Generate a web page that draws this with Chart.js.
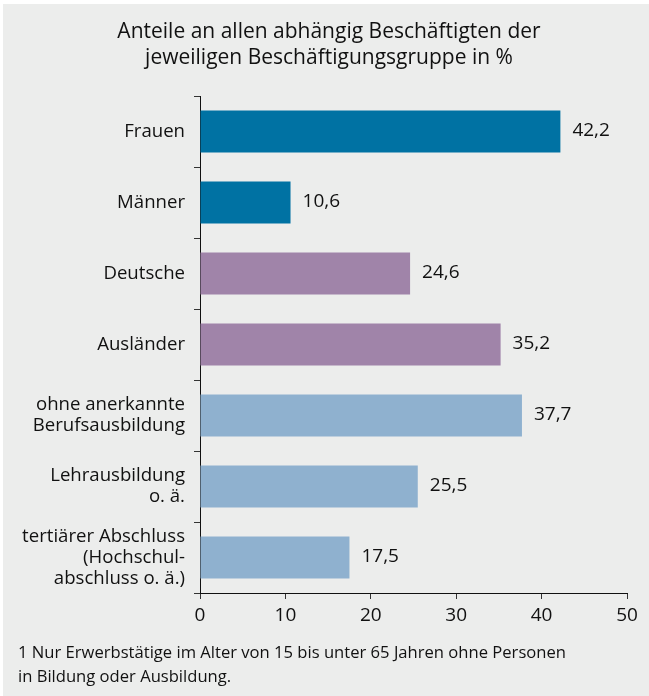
<!DOCTYPE html>
<html lang="de">
<head>
<meta charset="utf-8">
<title>Anteile an allen abhängig Beschäftigten</title>
<script src="https://cdn.jsdelivr.net/npm/chart.js@4.4.1/dist/chart.umd.min.js"></script>
<style>
    html, body { margin: 0; padding: 0; background: #ffffff; }
    #wrap { width: 649px; height: 696px; position: relative; }
</style>
</head>
<body>
<div id="wrap"><canvas id="chart"></canvas></div>
<script>
// Chart data
const categories = [
    'Frauen',
    'Männer',
    'Deutsche',
    'Ausländer',
    ['ohne anerkannte', 'Berufsausbildung'],
    ['Lehrausbildung', 'o. ä.'],
    ['tertiärer Abschluss', '(Hochschul-', 'abschluss o. ä.)']
];
const shares = [42.2, 10.6, 24.6, 35.2, 37.7, 25.5, 17.5];
const barColors = ['#0072a3', '#0072a3', '#a084a9', '#a084a9', '#8fb1cf', '#8fb1cf', '#8fb1cf'];
const titleLines = ['Anteile an allen abhängig Beschäftigten der', 'jeweiligen Beschäftigungsgruppe in %'];
const footnoteLines = [
    '1 Nur Erwerbstätige im Alter von 15 bis unter 65 Jahren ohne Personen',
    'in Bildung oder Ausbildung.'
];

const FONT = "'Open Sans', 'Noto Sans', sans-serif";
const TEXT = '#111111';

function formatValue(v) {
    return v.toFixed(1).replace('.', ',');
}

// grey panel with thin white edge on top and left
const panelBackground = {
    id: 'panelBackground',
    beforeDraw(chart) {
        const ctx = chart.ctx;
        ctx.save();
        ctx.fillStyle = '#ffffff';
        ctx.fillRect(0, 0, chart.width, chart.height);
        ctx.fillStyle = '#ecedec';
        ctx.fillRect(3, 4, chart.width - 3, chart.height - 4);
        ctx.restore();
    }
};

// two-line heading, centred over the whole panel
const heading = {
    id: 'heading',
    afterDraw(chart) {
        const ctx = chart.ctx;
        ctx.save();
        ctx.font = `21px ${FONT}`;
        ctx.fillStyle = TEXT;
        ctx.textAlign = 'center';
        ctx.textBaseline = 'middle';
        titleLines.forEach((line, i) => {
            ctx.fillText(line, 329, 32 + i * 26);
        });
        ctx.restore();
    }
};

// value labels to the right of each bar
const valueLabels = {
    id: 'valueLabels',
    afterDatasetsDraw(chart) {
        const ctx = chart.ctx;
        const meta = chart.getDatasetMeta(0);
        ctx.save();
        ctx.font = `19px ${FONT}`;
        ctx.fillStyle = TEXT;
        ctx.textAlign = 'left';
        ctx.textBaseline = 'middle';
        meta.data.forEach((bar, i) => {
            ctx.fillText(formatValue(shares[i]), bar.x + 12, bar.y - 1);
        });
        ctx.restore();
    }
};

// footnote below the axis
const footnote = {
    id: 'footnote',
    afterDraw(chart) {
        const ctx = chart.ctx;
        ctx.save();
        ctx.font = `16.6px ${FONT}`;
        ctx.fillStyle = TEXT;
        ctx.textAlign = 'left';
        ctx.textBaseline = 'middle';
        footnoteLines.forEach((line, i) => {
            ctx.fillText(line, 18, 653 + i * 24);
        });
        ctx.restore();
    }
};

const ctx = document.getElementById('chart').getContext('2d');

new Chart(ctx, {
    type: 'bar',
    data: {
        labels: categories,
        datasets: [{
            data: shares,
            backgroundColor: barColors,
            borderWidth: 0,
            categoryPercentage: 1,
            barPercentage: 0.59
        }]
    },
    options: {
        indexAxis: 'y',
        responsive: true,
        maintainAspectRatio: false,
        animation: false,
        layout: {
            padding: { left: 0, right: 22, top: 96, bottom: 0 }
        },
        plugins: {
            legend: { display: false },
            tooltip: { enabled: false },
            title: { display: false }
        },
        scales: {
            x: {
                min: 0,
                max: 50,
                ticks: {
                    stepSize: 10,
                    color: TEXT,
                    padding: 5,
                    font: { family: FONT, size: 19 }
                },
                grid: {
                    drawOnChartArea: false,
                    tickLength: 6,
                    color: '#333333'
                },
                border: { display: true, color: '#111111', width: 1 },
                afterFit(scale) {
                    scale.height = 103;
                }
            },
            y: {
                ticks: {
                    color: TEXT,
                    padding: 9,
                    font: { family: FONT, size: 18.6, lineHeight: 1.13 }
                },
                grid: {
                    drawOnChartArea: false,
                    offset: true,
                    tickLength: 6,
                    color: '#333333'
                },
                border: { display: true, color: '#111111', width: 1 },
                afterFit(scale) {
                    scale.width = 200;
                }
            }
        }
    },
    plugins: [panelBackground, heading, valueLabels, footnote]
});
</script>
</body>
</html>
